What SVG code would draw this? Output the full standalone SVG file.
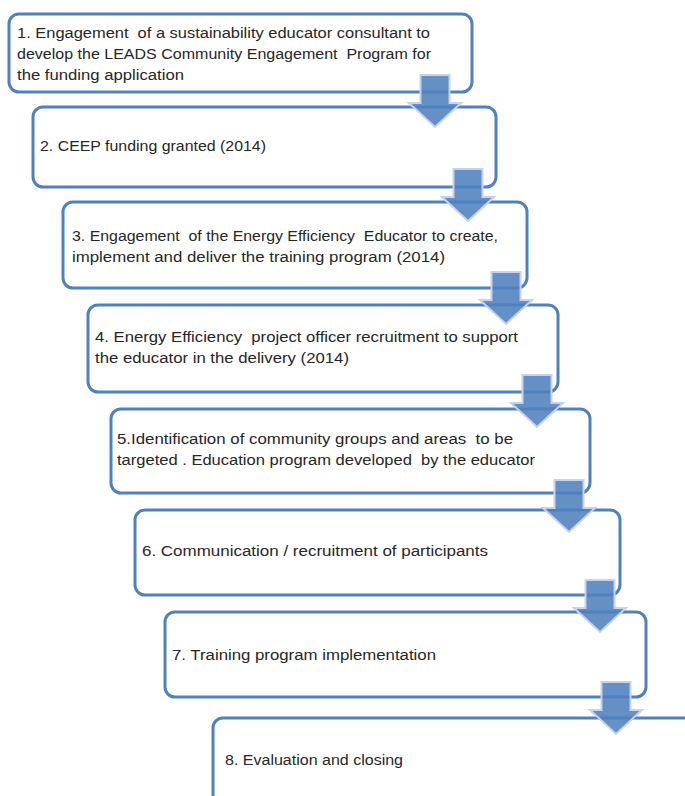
<svg xmlns="http://www.w3.org/2000/svg" xmlns:xlink="http://www.w3.org/1999/xlink" width="685" height="796" viewBox="0 0 685 796">
<style>
.box{fill:#ffffff;stroke:#4f81bd;stroke-width:3}
.t{font-family:"Liberation Sans",Arial,sans-serif;font-size:15.5px;fill:#262626;white-space:pre}
.arr{fill:#4f81bd;fill-opacity:0.88;stroke:#c8d2ea;stroke-width:2}
</style>
<defs>
<path id="dn" d="M-14.5,0 H14.5 V28 H26 L0,52 L-26,28 H-14.5 Z"/>
</defs>
<rect width="685" height="796" fill="#ffffff"/>
<g id="node1">
<rect class="box" x="9" y="14" width="463" height="78" rx="10"/>
<text class="t" x="17" y="38" textLength="413" lengthAdjust="spacingAndGlyphs" xml:space="preserve">1. Engagement  of a sustainability educator consultant to</text>
<text class="t" x="17" y="59" textLength="414" lengthAdjust="spacingAndGlyphs" xml:space="preserve">develop the LEADS Community Engagement  Program for</text>
<text class="t" x="17" y="80" textLength="167" lengthAdjust="spacingAndGlyphs">the funding application</text>
</g>
<g id="node2">
<rect class="box" x="33" y="107" width="463" height="80" rx="10"/>
<text class="t" x="40" y="151" textLength="226" lengthAdjust="spacingAndGlyphs">2. CEEP funding granted (2014)</text>
</g>
<g id="node3">
<rect class="box" x="63" y="202" width="464" height="86" rx="10"/>
<text class="t" x="72" y="241" textLength="426" lengthAdjust="spacingAndGlyphs" xml:space="preserve">3. Engagement  of the Energy Efficiency  Educator to create,</text>
<text class="t" x="72" y="262" textLength="373" lengthAdjust="spacingAndGlyphs">implement and deliver the training program (2014)</text>
</g>
<g id="node4">
<rect class="box" x="88" y="305" width="470" height="87" rx="10"/>
<text class="t" x="95" y="342" textLength="423" lengthAdjust="spacingAndGlyphs" xml:space="preserve">4. Energy Efficiency  project officer recruitment to support</text>
<text class="t" x="95" y="363" textLength="254" lengthAdjust="spacingAndGlyphs">the educator in the delivery (2014)</text>
</g>
<g id="node5">
<rect class="box" x="111" y="409" width="479" height="84" rx="10"/>
<text class="t" x="117" y="444" textLength="396" lengthAdjust="spacingAndGlyphs" xml:space="preserve">5.Identification of community groups and areas  to be</text>
<text class="t" x="117" y="465" textLength="418" lengthAdjust="spacingAndGlyphs" xml:space="preserve">targeted . Education program developed  by the educator</text>
</g>
<g id="node6">
<rect class="box" x="135" y="510" width="485" height="85" rx="10"/>
<text class="t" x="142" y="556" textLength="346" lengthAdjust="spacingAndGlyphs">6. Communication / recruitment of participants</text>
</g>
<g id="node7">
<rect class="box" x="165" y="612" width="481" height="85" rx="10"/>
<text class="t" x="172" y="660" textLength="264" lengthAdjust="spacingAndGlyphs">7. Training program implementation</text>
</g>
<g id="node8">
<rect class="box" x="213" y="718" width="500" height="120" rx="10"/>
<text class="t" x="225" y="765" textLength="178" lengthAdjust="spacingAndGlyphs">8. Evaluation and closing</text>
</g>
<g id="connectors">
<use xlink:href="#dn" href="#dn" class="arr" transform="translate(435,75)"/>
<use xlink:href="#dn" href="#dn" class="arr" transform="translate(468,169)"/>
<use xlink:href="#dn" href="#dn" class="arr" transform="translate(506,272)"/>
<use xlink:href="#dn" href="#dn" class="arr" transform="translate(537,375)"/>
<use xlink:href="#dn" href="#dn" class="arr" transform="translate(569,480)"/>
<use xlink:href="#dn" href="#dn" class="arr" transform="translate(600,580)"/>
<use xlink:href="#dn" href="#dn" class="arr" transform="translate(616,682)"/>
</g>
</svg>
